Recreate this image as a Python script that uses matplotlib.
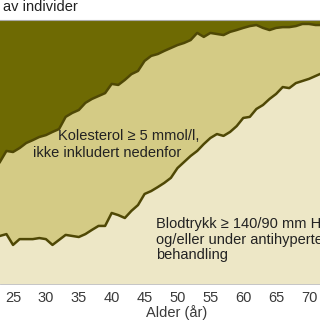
import matplotlib
matplotlib.use("Agg")
import matplotlib.pyplot as plt
import numpy as np

plt.rcParams['font.family'] = ['Liberation Sans', 'DejaVu Sans']

ages = list(range(23, 73))
# Upper boundary of the "blood pressure" band (% of individuals)
blodtrykk = [18.2, 18.9, 14.8, 17.0, 17.0, 17.0, 17.4, 17.0, 14.8, 16.7,
             18.6, 18.2, 17.8, 18.9, 20.5, 22.0, 22.0, 26.9, 26.1, 25.0,
             27.7, 29.9, 34.1, 35.2, 36.7, 38.3, 40.2, 43.9, 46.2, 48.5,
             50.4, 53.0, 55.3, 56.8, 56.1, 57.6, 59.8, 62.9, 63.3, 66.3,
             67.8, 70.1, 72.0, 74.6, 74.2, 76.1, 76.9, 77.7, 78.8, 79.9]
# Upper boundary of the cumulative "cholesterol" band (% of individuals)
kolesterol_kum = [46.2, 50.4, 50.0, 51.5, 53.4, 54.5, 55.7, 56.4, 57.6, 58.7,
                  63.3, 64.8, 65.9, 68.6, 70.1, 71.2, 72.3, 75.8, 75.4, 77.3,
                  79.5, 80.7, 84.5, 86.4, 87.1, 88.3, 89.4, 90.5, 91.3, 92.4,
                  95.1, 93.6, 95.1, 94.7, 94.3, 95.5, 96.2, 97.0, 97.7, 98.1,
                  97.0, 96.2, 97.0, 97.3, 97.3, 97.7, 98.5, 98.5, 98.1, 98.1]
xticks = [25, 30, 35, 40, 45, 50, 55, 60, 65, 70]

c_dark = '#6e6a03'
c_mid = '#d4cb85'
c_light = '#ede7c6'
c_line = '#4f4805'

fs = 10.5
fig = plt.figure(figsize=(3.2, 3.2), dpi=100)
ax = fig.add_axes([0, 36/320, 1, 264/320])
a = np.array(ages)
lo = np.array(blodtrykk)
up = np.array(kolesterol_kum)
ax.fill_between(a, 0, lo, color=c_light, lw=0)
ax.fill_between(a, lo, up, color=c_mid, lw=0)
ax.fill_between(a, up, 100, color=c_dark, lw=0)
ax.plot(a, lo, color=c_line, lw=1.8)
ax.plot(a, up, color=c_line, lw=1.8)
ax.set_xlim(23.02, 71.67)
ax.set_ylim(0, 100)
ax.set_xticks(xticks)
ax.set_xticklabels([str(t) for t in xticks], fontsize=fs, color='#3a3a3a')
ax.tick_params(axis='x', length=0, pad=5)
ax.set_yticks([])
for s in ['left', 'right']:
    ax.spines[s].set_visible(False)
ax.spines['top'].set_color('#aaaaaa')
ax.spines['top'].set_linewidth(0.8)
ax.spines['bottom'].set_color('#bbbbbb')
ax.spines['bottom'].set_linewidth(0.6)

tc = '#222222'
fig.text(177/320, 1 - 313/320, 'Alder (år)', ha='center', va='center',
         fontsize=fs, color='#3a3a3a')
fig.text(3/320, 1 - 7/320, 'av individer', ha='left', va='center',
         fontsize=fs, color=tc)
fig.text(58/320, 1 - 136/320, 'Kolesterol ≥ 5 mmol/l,', ha='left', va='center',
         fontsize=fs, color=tc)
fig.text(33/320, 1 - 153/320, 'ikke inkludert nedenfor', ha='left', va='center',
         fontsize=fs, color=tc)
fig.text(156/320, 1 - 224/320, 'Blodtrykk ≥ 140/90 mm Hg', ha='left', va='center',
         fontsize=fs, color=tc)
fig.text(156/320, 1 - 240/320, 'og/eller under antihypertensiv', ha='left', va='center',
         fontsize=fs, color=tc)
fig.text(156/320, 1 - 255/320, 'behandling', ha='left', va='center',
         fontsize=fs, color=tc)

fig.savefig('out.png', dpi=100)
